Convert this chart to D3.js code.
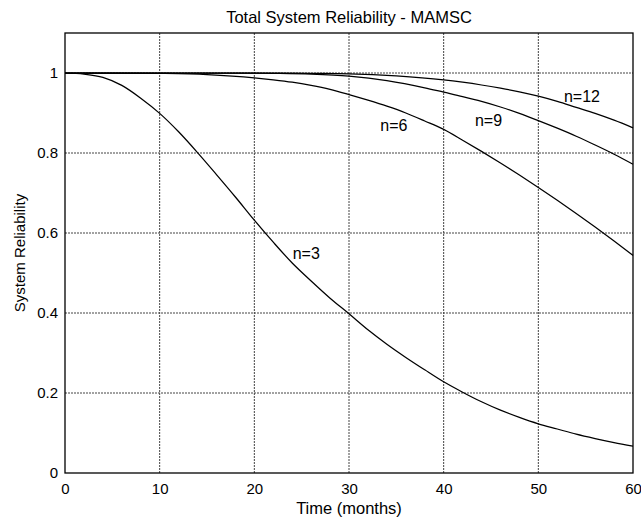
<!DOCTYPE html>
<html>
<head>
<meta charset="utf-8">
<script src="https://cdn.jsdelivr.net/npm/d3@7/dist/d3.min.js"></script>
<style>
  html, body { margin: 0; padding: 0; background: #fff; }
  svg { display: block; }
  text { font-family: "Liberation Sans", Arial, Helvetica, sans-serif; fill: #000; }
</style>
</head>
<body>
<svg id="chart" width="641" height="520"></svg>
<script>
// Reliability curves by number of units n, time in months
const months3  = [0, 2, 4, 6, 8, 10, 12, 14, 16, 18, 20, 22, 24, 26, 28, 30, 32, 34, 36, 38, 40, 42, 44, 46, 48, 50, 52, 54, 56, 58, 60];
const rel3     = [1.0, 0.997, 0.989, 0.969, 0.937, 0.899, 0.853, 0.801, 0.746, 0.690, 0.632, 0.577, 0.525, 0.480, 0.437, 0.398,
                  0.358, 0.322, 0.289, 0.258, 0.228, 0.202, 0.178, 0.157, 0.139, 0.123, 0.110, 0.097, 0.086, 0.076, 0.067];

const months6  = [0, 5, 10, 15, 20, 22, 24, 26, 28, 30, 32, 34, 36, 38, 40, 42, 44, 46, 48, 50, 52, 54, 56, 58, 60];
const rel6     = [1.0, 1.0, 0.999, 0.996, 0.988, 0.983, 0.977, 0.969, 0.959, 0.946, 0.932, 0.917, 0.900, 0.880, 0.859,
                  0.832, 0.804, 0.775, 0.745, 0.714, 0.682, 0.649, 0.615, 0.580, 0.544];

const months9  = [0, 10, 18, 22, 26, 30, 34, 38, 40, 42, 44, 46, 48, 50, 52, 54, 56, 58, 60];
const rel9     = [1.0, 1.0, 1.0, 0.999, 0.997, 0.992, 0.981, 0.963, 0.952, 0.941, 0.929, 0.915, 0.899, 0.881, 0.862,
                  0.842, 0.820, 0.797, 0.772];

const months12 = [0, 20, 26, 30, 35, 40, 42, 44, 46, 48, 50, 52, 54, 56, 58, 60];
const rel12    = [1.0, 1.0, 0.999, 0.998, 0.993, 0.983, 0.977, 0.970, 0.962, 0.953, 0.942, 0.929, 0.914, 0.899, 0.882, 0.863];

const seriesNames = ["n=3", "n=6", "n=9", "n=12"];
// label anchor points (left end of text baseline) in data units
const labelT = [24.05, 33.3, 43.3, 52.7];
const labelR = [0.535, 0.855, 0.8675, 0.928];

const xTicks = [0, 10, 20, 30, 40, 50, 60];
const yTicks = [0, 0.2, 0.4, 0.6, 0.8, 1];

const series = [
  { t: months3, r: rel3 },
  { t: months6, r: rel6 },
  { t: months9, r: rel9 },
  { t: months12, r: rel12 }
];

const svg = d3.select("#chart");
const margin = { left: 65, right: 8, top: 33, bottom: 47 };
const W = 641, H = 520;
const x = d3.scaleLinear().domain([0, 60]).range([margin.left, W - margin.right]);
const y = d3.scaleLinear().domain([0, 1.1]).range([H - margin.bottom, margin.top]);

// dotted grid
const grid = svg.append("g").attr("class", "grid");
grid.selectAll("line.v").data(xTicks.slice(1, -1)).join("line")
  .attr("x1", d => x(d)).attr("x2", d => x(d))
  .attr("y1", y(0)).attr("y2", y(1.1))
  .attr("stroke", "#444").attr("stroke-width", 1).attr("stroke-dasharray", "2,1");
grid.selectAll("line.h").data(yTicks.slice(1)).join("line")
  .attr("x1", x(0)).attr("x2", x(60))
  .attr("y1", d => y(d)).attr("y2", d => y(d))
  .attr("stroke", "#444").attr("stroke-width", 1).attr("stroke-dasharray", "2,1");

// axes
const xAxis = svg.append("g")
  .attr("transform", `translate(0,${y(0)})`)
  .call(d3.axisBottom(x).tickValues(xTicks).tickSize(0).tickPadding(10).tickFormat(d3.format("d")));
const yAxis = svg.append("g")
  .attr("transform", `translate(${x(0)},0)`)
  .call(d3.axisLeft(y).tickValues(yTicks).tickSize(0).tickPadding(7)
    .tickFormat(d => d === 0 || d === 1 ? d3.format("d")(d) : d3.format(".1f")(d)));
[xAxis, yAxis].forEach(a => {
  a.select(".domain").remove();
  a.selectAll("text").attr("font-size", 15).attr("font-family", "Liberation Sans, Arial, sans-serif").attr("fill", "#000");
});

// frame
svg.append("rect")
  .attr("x", x(0)).attr("y", y(1.1))
  .attr("width", x(60) - x(0)).attr("height", y(0) - y(1.1))
  .attr("fill", "none").attr("stroke", "#000").attr("stroke-width", 1.3);

// curves
const line = d3.line()
  .x(d => x(d[0])).y(d => y(d[1]))
  .curve(d3.curveMonotoneX);
svg.append("g").selectAll("path").data(series).join("path")
  .attr("d", s => line(s.t.map((t, i) => [t, s.r[i]])))
  .attr("fill", "none").attr("stroke", "#000").attr("stroke-width", 1.25);

// curve labels
svg.append("g").selectAll("text").data(seriesNames).join("text")
  .attr("x", (d, i) => x(labelT[i]))
  .attr("y", (d, i) => y(labelR[i]))
  .attr("font-size", 16)
  .text(d => d);

// titles
svg.append("text")
  .attr("x", (x(0) + x(60)) / 2).attr("y", 23)
  .attr("text-anchor", "middle").attr("font-size", 16.5)
  .text("Total System Reliability - MAMSC");
svg.append("text")
  .attr("x", (x(0) + x(60)) / 2).attr("y", 514)
  .attr("text-anchor", "middle").attr("font-size", 16.5)
  .text("Time (months)");
svg.append("text")
  .attr("transform", `translate(25,${(y(0) + y(1.1)) / 2}) rotate(-90)`)
  .attr("text-anchor", "middle").attr("font-size", 15)
  .text("System Reliability");
</script>
</body>
</html>
